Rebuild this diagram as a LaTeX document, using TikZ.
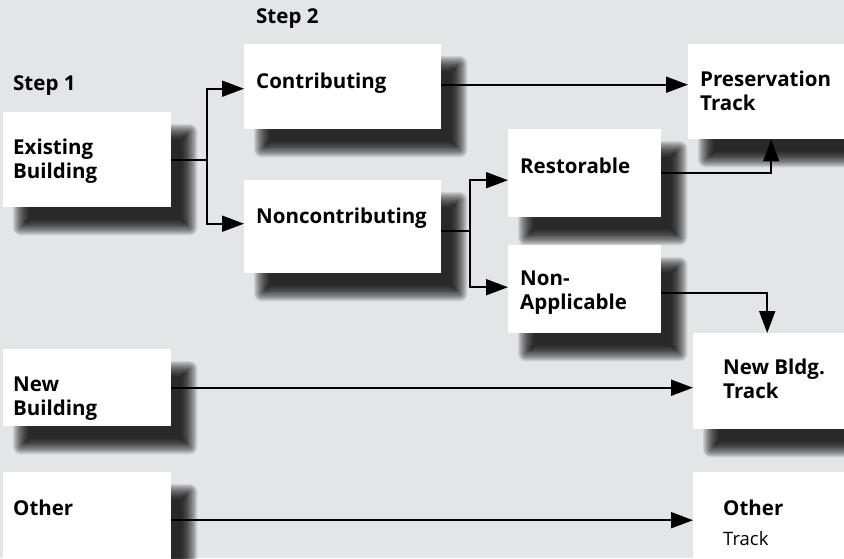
\documentclass[tikz,border=0pt]{standalone}
\usepackage{fontspec}
\setmainfont{Open Sans}
\usetikzlibrary{arrows.meta}

\definecolor{bggray}{RGB}{228,229,231}
\pgfdeclarelayer{back}
\pgfdeclarelayer{shade}
\pgfsetlayers{back,shade,main}

\begin{document}
\begin{tikzpicture}[x=1pt,y=1pt,
    box/.style={fill=white, anchor=north west, inner sep=0pt},
    shade/.style={fill=black, fill opacity=0.09},
    txt/.style={anchor=base west, inner sep=0pt, align=left,
      font=\fontsize{20.5}{23.5}\selectfont\bfseries},
    line/.style={black, line width=1.9pt},
    arr/.style={line, -{Triangle[length=22pt,width=16pt]}}]
  \useasboundingbox (0,0) rectangle (844,-558);
  \begin{pgfonlayer}{back}
    \fill [bggray] (0,0) rectangle (844,-558);
  \end{pgfonlayer}
  % boxes
  \node [box, minimum width=168pt, minimum height=95pt] (existing) at (3,-112) {};
  \node [box, minimum width=197pt, minimum height=85pt] (contrib) at (244,-44) {};
  \node [box, minimum width=197pt, minimum height=93pt] (noncontrib) at (244,-180) {};
  \node [box, minimum width=153pt, minimum height=88pt] (restor) at (508,-129) {};
  \node [box, minimum width=153pt, minimum height=88pt] (nonapp) at (508,-245) {};
  \node [box, minimum width=170pt, minimum height=95pt] (presv) at (688,-44) {};
  \node [box, minimum width=170pt, minimum height=96pt] (newtrack) at (693,-333) {};
  \node [box, minimum width=170pt, minimum height=96pt] (othertrack) at (693,-472) {};
  \node [box, minimum width=168pt, minimum height=77pt] (newbldg) at (3,-349) {};
  \node [box, minimum width=168pt, minimum height=96pt] (other) at (3,-472) {};
  % soft shadows under the boxes
  \begin{pgfonlayer}{shade}
    \foreach \n in {existing,contrib,noncontrib,restor,nonapp,presv,newtrack,othertrack,newbldg,other}
      \foreach \r [evaluate=\r as \rc using \r+10] in {-8,-7,...,8}
        \fill [shade, rounded corners=\rc pt] ([shift={(18-\r,-20+\r)}]\n.north west) rectangle ([shift={(18+\r,-20-\r)}]\n.south east);
  \end{pgfonlayer}
  % texts (base = last line)
  \node [txt] (step2) at (256,-23) {Step 2};
  \node [txt] (step1) at (13,-90) {Step 1};
  \node [txt] (existing-t) at (13,-178) {Existing\\Building};
  \node [txt] (contrib-t) at (256,-88) {Contributing};
  \node [txt] (noncontrib-t) at (256,-223) {Noncontributing};
  \node [txt] (presv-t) at (700,-110) {Preservation\\Track};
  \node [txt] (restor-t) at (520,-173) {Restorable};
  \node [txt] (nonapp-t) at (520,-309) {Non-\\Applicable};
  \node [txt] (newbldg-t) at (13,-415) {New\\Building};
  \node [txt] (other-t) at (13,-515) {Other};
  \node [txt] (newtrack-t) at (723,-398) {New Bldg.\\Track};
  \node [txt] (othertrack-t) at (723,-545) {Other\\[6pt]{\mdseries\fontsize{18.5}{22}\selectfont Track}};
  % connectors
  \coordinate (fork1) at ([xshift=36pt]existing.east);
  \draw [line] (existing.east) -- (fork1);
  \draw [arr] (fork1) |- ([yshift=-2pt]contrib.west);
  \draw [arr] (fork1) |- ([yshift=3pt]noncontrib.west);
  \coordinate (c1) at ([yshift=2pt]contrib.east);
  \draw [arr] (c1) -- (c1 -| presv.west);
  \coordinate (nc1) at ([yshift=-4pt]noncontrib.east);
  \coordinate (fork2) at ([xshift=29pt]nc1);
  \draw [line] (nc1) -- (fork2);
  \draw [arr] (fork2) |- ([yshift=-7pt]restor.west);
  \draw [arr] (fork2) |- ([yshift=2pt]nonapp.west);
  \draw [arr] (restor.east) -| ([xshift=-2pt]presv.south);
  \draw [arr] ([yshift=-4pt]nonapp.east) -| ([xshift=-11pt]newtrack.north);
  \draw [arr] (newbldg.east) -- (newbldg.east -| newtrack.west);
  \draw [arr] (other.east) -- (other.east -| othertrack.west);
\end{tikzpicture}
\end{document}
